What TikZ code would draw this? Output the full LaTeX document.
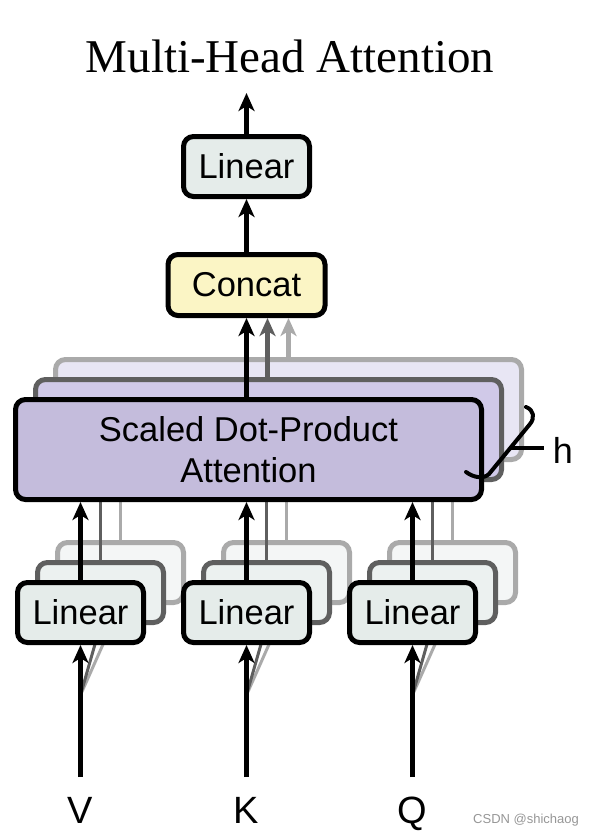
\documentclass[tikz,border=0pt]{standalone}
\usepackage{fontspec}
\setmainfont{Liberation Serif}
\setsansfont{Liberation Sans}
\usetikzlibrary{arrows.meta}
\definecolor{linfill}{RGB}{229,236,234}
\definecolor{linfillB}{RGB}{236,241,240}
\definecolor{linfillC}{RGB}{244,246,246}
\definecolor{catfill}{RGB}{251,245,197}
\definecolor{sdpfill}{RGB}{196,188,220}
\definecolor{sdpfillB}{RGB}{208,201,232}
\definecolor{sdpfillC}{RGB}{232,230,244}
\definecolor{darkg}{RGB}{95,95,95}
\definecolor{lightg}{RGB}{170,170,170}
\definecolor{wmark}{RGB}{150,150,150}
\begin{document}
\begin{tikzpicture}[x=1pt,y=-1pt,
  box/.style={draw=black,line width=5pt,rounded corners=10pt,inner sep=0pt,
    font=\sffamily\fontsize{34.5}{41}\selectfont,align=center},
  linbox/.style={box,fill=linfill,minimum width=126pt,minimum height=60pt},
  linboxB/.style={linbox,fill=linfillB,draw=darkg},
  linboxC/.style={linbox,fill=linfillC,draw=lightg},
  sdpbox/.style={box,fill=sdpfill,minimum width=466pt,minimum height=100pt},
  sdpboxB/.style={sdpbox,fill=sdpfillB,draw=darkg},
  sdpboxC/.style={sdpbox,fill=sdpfillC,draw=lightg},
  arr/.style={line width=4.5pt,-{Stealth[length=18pt,width=16pt,inset=5pt]}},
  thinarr/.style={line width=3pt,-{Stealth[length=14pt,width=12pt,inset=4pt]}},
  lbl/.style={font=\sffamily\fontsize{38}{44}\selectfont,anchor=base,inner sep=0pt},
]
\useasboundingbox (0,0) rectangle (596,836);

% title
\node[font=\fontsize{47}{56}\selectfont,anchor=base,inner sep=0pt] (title) at (290,72) {Multi-Head Attention};

% scaled dot-product stack (back to front)
\node[sdpboxC] (s3) at (288.5,409.5) {};
\node[sdpboxB] (s2) at (268.5,429.5) {};

% linear stacks, back layers
\foreach \n/\x in {v/80.5,k/246.5,q/412.5}{
  \node[linboxC] (\n3) at (\x+40,572.5) {};
}
\foreach \n in {v,k,q}{
  \draw[thinarr,lightg] (\n3.north) -- (\n3.north |- s3.south);
}
\foreach \n/\x in {v/80.5,k/246.5,q/412.5}{
  \node[linboxB] (\n2) at (\x+20,592.5) {};
}
\foreach \n in {v,k,q}{
  \draw[thinarr,darkg] (\n2.north) -- (\n2.north |- s2.south);
}

% input coordinates and back input arrows
\foreach \n/\x in {v/80.5,k/246.5,q/412.5}{
  \coordinate (\n in) at (\x,777);
  \coordinate (\n fork) at (\x,695);
}
\foreach \n in {v,k,q}{
  \draw[thinarr,lightg] (\n fork) -- (\n3.south);
  \draw[thinarr,darkg] (\n fork) -- (\n2.south);
}

% concat and upper part
\node[box,fill=catfill,minimum width=157pt,minimum height=61pt] (cat) at (246.5,285) {Concat};
\node[linbox] (lt) at (246.5,166.5) {Linear};
\coordinate (out) at (246.5,93);

\draw[arr,lightg] ([xshift=42pt]cat.south |- s3.north) -- ([xshift=42pt]cat.south);
\draw[arr,darkg] ([xshift=21pt]cat.south |- s2.north) -- ([xshift=21pt]cat.south);

% front scaled dot-product box
\node[sdpbox] (s1) at (248.5,449.5) {Scaled Dot-Product\\Attention};
\draw[arr] (cat.south |- s1.north) -- (cat.south);
\draw[arr] (cat.north) -- (lt.south);
\draw[arr] (lt.north) -- (out);

% front linear boxes
\foreach \n/\x in {v/80.5,k/246.5,q/412.5}{
  \node[linbox] (\n1) at (\x,612.5) {Linear};
}
\foreach \n in {v,k,q}{
  \draw[arr] (\n1.north) -- (\n1.north |- s1.south);
  \draw[arr] (\n in) -- (\n1.south);
}

% h brace
\draw[line width=4pt,line cap=round,line join=round]
  (526,407) .. controls (534,410) and (535,418) .. (530,424)
  -- (489,474) .. controls (484,479) and (474,478) .. (466,472);
\draw[line width=3.5pt] (510,448) -- (544,448);
\node[font=\sffamily\fontsize{36}{42}\selectfont,anchor=base,inner sep=0pt] (h) at (563,463) {h};

% labels
\node[lbl] (V) at (80.5,823) {V};
\node[lbl] (K) at (246.5,823) {K};
\node[lbl] (Q) at (412.5,823) {Q};
\node[font=\sffamily\fontsize{13}{15}\selectfont,anchor=base west,inner sep=0pt,text=wmark] (wm) at (473,823) {CSDN @shichaog};
\end{tikzpicture}
\end{document}
